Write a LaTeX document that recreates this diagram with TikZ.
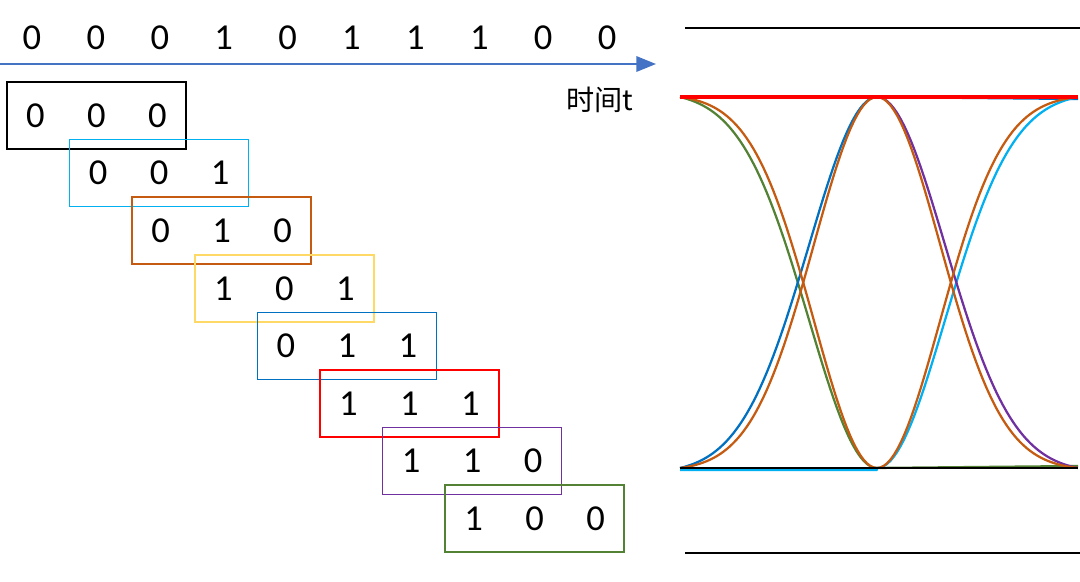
\documentclass[tikz,border=0pt]{standalone}
\usepackage{fontspec}
\setmainfont{Carlito}
\newfontfamily\cjk{Noto Sans CJK SC}
\usetikzlibrary{positioning,calc,arrows.meta}
\definecolor{AxisBlue}{RGB}{68,114,196}
\definecolor{WinCyan}{RGB}{0,176,240}
\definecolor{WinOrange}{RGB}{197,90,17}
\definecolor{WinYellow}{RGB}{255,217,102}
\definecolor{WinBlue}{RGB}{0,112,192}
\definecolor{WinRed}{RGB}{255,0,0}
\definecolor{WinPurple}{RGB}{112,48,160}
\definecolor{WinGreen}{RGB}{84,130,53}

\begin{document}
\begin{tikzpicture}[
		x=0.025cm, y=-0.025cm,
		bit/.style={font=\fontsize{26}{30}\selectfont, inner sep=0pt},
		win/.style={draw, line width=1.1pt, minimum width=4.475cm, minimum height=1.675cm, inner sep=0pt},
		eye/.style={line width=1.6pt, line join=round},
		level/.style={black, line width=1.5pt},
		declare function={pulse(\t,\k,\e)=(exp(-0.5*(\k*\t)^2)-\e)/(1-\e);}
		]
		\useasboundingbox (0,0) rectangle (1080,581);
		
		% ===== bit sequence and time axis =====
		\foreach \v [count=\i from 0] in {0,0,0,1,0,1,1,1,0,0}{
			\node[bit] (B\i) at ({32+\i*63.9},38) {\v};
		}
		\coordinate (t0) at (0,64);
		\coordinate (t1) at (656,64);
		\draw[AxisBlue, line width=1.4pt, -{Triangle[length=14pt, width=11pt]}] (t0) -- (t1);
		\node[font=\cjk\fontsize{20}{24}\selectfont, inner sep=0pt] (tlabel) at (600,100) {时间t};
		
		% ===== sliding 3-bit windows =====
		\foreach \a/\b/\c/\col [count=\i from 0] in {0/0/0/black, 0/0/1/WinCyan, 0/1/0/WinOrange, 1/0/1/WinYellow,
			0/1/1/WinBlue, 1/1/1/WinRed, 1/1/0/WinPurple, 1/0/0/WinGreen}{
			\node[win, draw=\col] (W\i) at ({96.5+\i*62.6},{115.5+\i*57.6}) {};
			\node[bit] (W\i-a) at ($(W\i)+(-61,0)$) {\a};
			\node[bit] (W\i-b) at ($(W\i)+(0,0)$) {\b};
			\node[bit] (W\i-c) at ($(W\i)+(61,0)$) {\c};
		}
		
		% ===== eye diagram =====
		\coordinate (E0) at (680,97);
		\coordinate (E1) at (1078,97);
		\coordinate (F0) at (680,468);
		\coordinate (F1) at (1078,468);
		\draw[level] (685,28) -- (1080,28);
		\draw[level] (685,553) -- (1080,553);
		
		% 100
		\draw[eye, WinGreen] plot[domain=1:0, samples=60] ({877-197*\x},{97+371*pulse(\x,2.897,0.01506)}) -- (1078,466);
		% 011
		\draw[eye, WinBlue] plot[domain=1:0, samples=60] ({877-197*\x},{468-371*pulse(\x,2.897,0.01506)}) -- (1078,99);
		% 001
		\draw[eye, WinCyan] (680,470) -- (877,470) -- plot[domain=0:1, samples=60] ({877+201*\x},{97+371*pulse(\x,2.956,0.01266)});
		% 110
		\draw[eye, WinPurple] (680,97) -- (877,97) -- plot[domain=0:1, samples=60] ({877+201*\x},{468-371*pulse(\x,2.956,0.01266)});
		% 010
		\draw[eye, WinOrange] plot[domain=1:0, samples=60] ({877-197*\x},{468-371*pulse(\x,3.127,0.00753)})
			-- plot[domain=0:1, samples=60] ({877+201*\x},{468-371*pulse(\x,3.19,0.00616)});
		% 101
		\draw[eye, WinOrange] plot[domain=1:0, samples=60] ({877-197*\x},{97+371*pulse(\x,3.127,0.00753)})
			-- plot[domain=0:1, samples=60] ({877+201*\x},{97+371*pulse(\x,3.19,0.00616)});
		% 111 and 000
		\draw[WinRed, line width=2.2pt] (E0) -- (E1);
		\draw[black, line width=2pt] (F0) -- (F1);
		
	\end{tikzpicture}
\end{document}
